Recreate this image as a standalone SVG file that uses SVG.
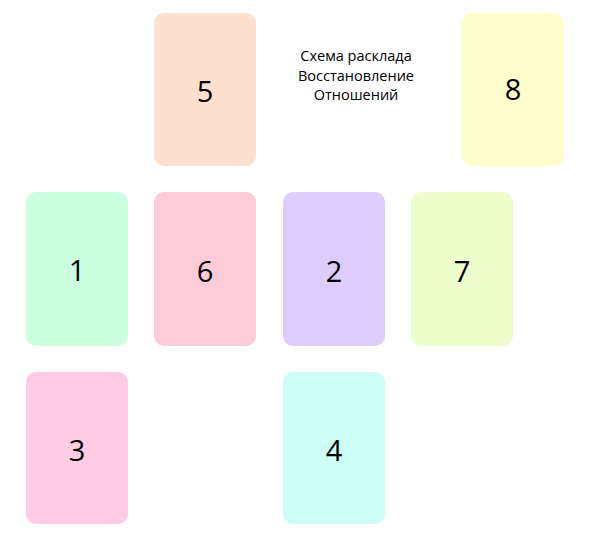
<svg xmlns="http://www.w3.org/2000/svg" width="590" height="538" viewBox="0 0 590 538">
<style>
.card{stroke:none}
.num{font-family:"Open Sans","Liberation Sans",sans-serif;font-size:29px;fill:#000;text-anchor:middle}
.title{font-family:"Open Sans","Liberation Sans",sans-serif;font-size:14.5px;fill:#000;text-anchor:middle}
</style>
<rect width="590" height="538" fill="#fff"/>
<g id="node5"><rect class="card" x="154" y="13" width="102" height="153" rx="10" fill="#FDE0CD"/><text class="num" x="205" y="102">5</text></g>
<g id="node8"><rect class="card" x="462" y="13" width="102" height="153" rx="10" fill="#FEFECC"/><text class="num" x="513" y="100">8</text></g>
<g id="node1"><rect class="card" x="26" y="192" width="102" height="154" rx="10" fill="#CCFEE0"/><text class="num" x="77" y="281">1</text></g>
<g id="node6"><rect class="card" x="154" y="192" width="102" height="154" rx="10" fill="#FECCD9"/><text class="num" x="205" y="282">6</text></g>
<g id="node2"><rect class="card" x="283" y="192" width="102" height="154" rx="10" fill="#DDCCFE"/><text class="num" x="334" y="282">2</text></g>
<g id="node7"><rect class="card" x="411" y="192" width="102" height="154" rx="10" fill="#EEFECC"/><text class="num" x="462" y="282">7</text></g>
<g id="node3"><rect class="card" x="26" y="372" width="102" height="152" rx="10" fill="#FECCE3"/><text class="num" x="77" y="461">3</text></g>
<g id="node4"><rect class="card" x="283" y="372" width="102" height="152" rx="10" fill="#CCFEF5"/><text class="num" x="334" y="461">4</text></g>
<g id="title"><text class="title" x="356" y="61">Схема расклада</text><text class="title" x="356" y="80.5">Восстановление</text><text class="title" x="356" y="100">Отношений</text></g>
<g id="connectors"></g>
</svg>
